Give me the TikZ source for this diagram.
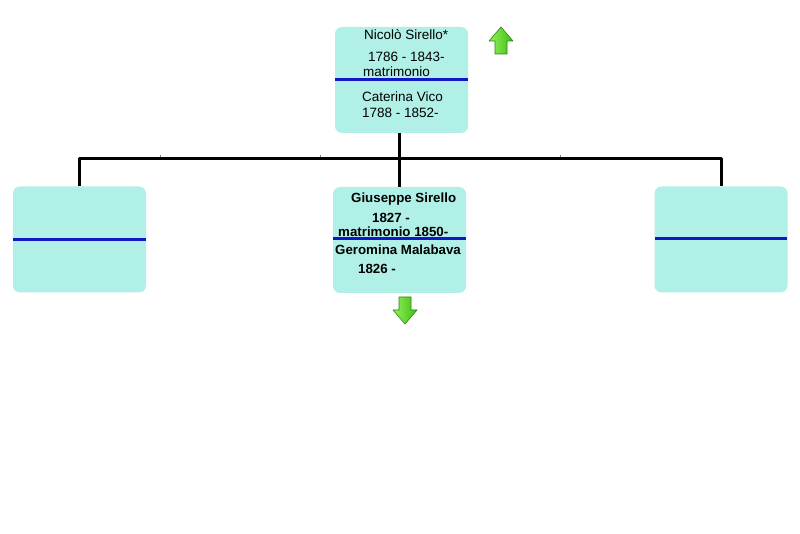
\documentclass[tikz,border=0pt]{standalone}
\usepackage{fontspec}
\setmainfont{Liberation Sans}
\usetikzlibrary{positioning}
\definecolor{boxfill}{RGB}{176,240,230}
\definecolor{divblue}{RGB}{20,20,200}
\definecolor{arrowgreen}{RGB}{60,190,20}
\definecolor{arrowlight}{RGB}{150,240,90}
\tikzset{
	person/.style={draw=none,fill=boxfill,rounded corners=7pt,minimum width=133pt,minimum height=106pt,inner sep=0pt},
	link/.style={line width=3pt,black},
	divider/.style={line width=3pt,divblue},
	txt/.style={anchor=base west,inner sep=0pt,font=\fontsize{13.5}{15}\selectfont},
	txtb/.style={anchor=base west,inner sep=0pt,font=\fontsize{13.3}{15}\selectfont\bfseries}
}
\begin{document}
\begin{tikzpicture}[x=1pt,y=-1pt,line join=round,line cap=butt]
			\useasboundingbox[fill=white] (0,0) rectangle (800,534);
			% caselle
			\node[person] (padre) at (401.5,80) {};
			\node[person] (sx) at (79.5,239.5) {};
			\node[person] (figlio) at (399.5,240) {};
			\node[person] (dx) at (721,239.5) {};
			% righe blu
			\draw[divider] (335,80) -- (468,80);
			\draw[divider] (13,240) -- (146,240);
			\draw[divider] (333,239) -- (466,239);
			\draw[divider] (655,239) -- (787,239);
			% collegamenti
			\draw[link] (sx.north) -- ++(0,-28) -| (dx.north);
			\draw[link] (figlio.north) -- (figlio.north |- padre.south);
			\foreach \t in {160,320,560} \draw[gray,line width=.8pt] (\t,157.5) -- (\t,155.5);
			% testi
			\node[txt] (n1) at (364,40) {Nicolò Sirello*};
			\node[txt] (n2) at (368,62) {1786 - 1843-};
			\node[txt] (n3) at (363,77) {matrimonio};
			\node[txt] (n4) at (362,102) {Caterina Vico};
			\node[txt] (n5) at (362,118) {1788 - 1852-};
			\node[txtb] (g1) at (351,203) {Giuseppe Sirello};
			\node[txtb] (g2) at (372,223) {1827 -};
			\node[txtb] (g3) at (338,237) {matrimonio 1850-};
			\node[txtb] (g4) at (335,255) {Geromina Malabava};
			\node[txtb] (g5) at (358,274) {1826 -};
			% frecce verdi
			\shade[left color=arrowlight,right color=arrowgreen,draw=arrowgreen!70!black,line width=.6pt]
				(501,27) -- (513,41) -- (507,41) -- (507,54) -- (495,54) -- (495,41) -- (489,41) -- cycle;
			\shade[left color=arrowlight,right color=arrowgreen,draw=arrowgreen!70!black,line width=.6pt]
				(405,324) -- (417,310) -- (411,310) -- (411,297) -- (399,297) -- (399,310) -- (393,310) -- cycle;
	\end{tikzpicture}
\end{document}
